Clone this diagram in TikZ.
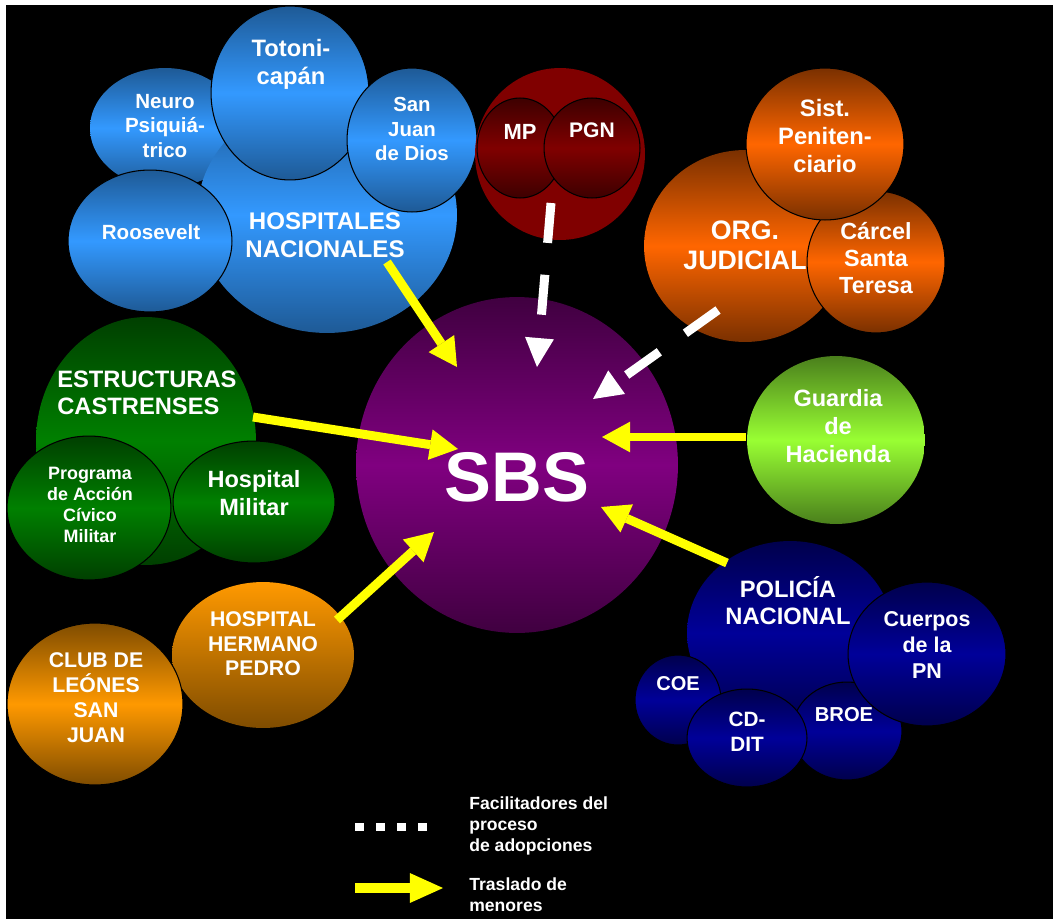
\documentclass[tikz,border=0pt]{standalone}
\usepackage{fontspec}
\setmainfont{Liberation Sans}
\usetikzlibrary{shapes.geometric,arrows.meta}

\definecolor{bluelt}{HTML}{3399FF}
\definecolor{bluedk}{HTML}{1E5A96}
\definecolor{redmd}{HTML}{800000}
\definecolor{reddk}{HTML}{3D0000}
\definecolor{orglt}{HTML}{FF6600}
\definecolor{orgdk}{HTML}{7A3000}
\definecolor{purlt}{HTML}{800080}
\definecolor{purdk}{HTML}{400040}
\definecolor{limelt}{HTML}{99FF33}
\definecolor{limedk}{HTML}{4A7F1C}
\definecolor{grnlt}{HTML}{008000}
\definecolor{grndk}{HTML}{003F00}
\definecolor{amblt}{HTML}{FF9900}
\definecolor{ambdk}{HTML}{7F4C00}
\definecolor{navylt}{HTML}{000099}
\definecolor{navydk}{HTML}{00004C}
\definecolor{yel}{HTML}{FFFF00}

\newcommand{\fsz}[2]{\fontsize{#1}{#2}\selectfont\bfseries}

\tikzset{
  bub/.style 2 args={ellipse, minimum width=#1*0.04cm, minimum height=#2*0.04cm, inner sep=0pt},
  sub/.style={draw=black, line width=0.6pt},
  shade3/.style 2 args={top color=#2, bottom color=#2, middle color=#1},
  txt/.style={text=white, align=center, inner sep=0pt},
  yarr/.style={draw=yel, line width=5.1pt, -{Triangle[length=16pt,width=17.5pt,line width=0pt]}},
  warr/.style={draw=white, line width=5.1pt, dash pattern=on 22.8pt off 18.2pt,
    -{Triangle[length=16.5pt,width=16.5pt,line width=0pt]}}
}

\begin{document}
\begin{tikzpicture}[x=0.02cm, y=-0.02cm]
\useasboundingbox (0,0) rectangle (1053,919);
\fill[white] (0,0) rectangle (1053,919);
\fill[black] (6,5) rectangle (1053,919);

% hospitales
\node[bub={75}{60}, shade3={bluelt}{bluedk}] (neuro) at (165,128) {};
\node[bub={130}{118}, shade3={bluelt}{bluedk}] (hosp) at (327,215) {};
\node[bub={79}{87}, sub, shade3={bluelt}{bluedk}] (toto) at (290,93) {};
\node[bub={65}{72}, sub, shade3={bluelt}{bluedk}] (sjd) at (412,140) {};
\node[bub={82}{71}, sub, shade3={bluelt}{bluedk}] (roose) at (150,241) {};
\node[txt, font=\fsz{13.5}{15.9}] (toto-t) at (291,64) {Totoni-\\capán};
\node[txt, font=\fsz{11.7}{13.7}] (neuro-t) at (165,126) {Neuro\\Psiquiá-\\trico};
\node[txt, font=\fsz{11.6}{13.7}] (sjd-t) at (412,129) {San\\Juan\\de Dios};
\node[txt, font=\fsz{11.7}{14}] (roose-t) at (151,232) {Roosevelt};
\node[txt, font=\fsz{13.7}{15.8}] (hosp-t) at (325,235) {HOSPITALES\\NACIONALES};

% MP / PGN
\node[bub={85}{86}, fill=redmd] (redbg) at (560,154) {};
\node[bub={43}{50}, sub, shade3={redmd}{reddk}] (mp) at (520,148) {};
\node[bub={48}{50}, sub, shade3={redmd}{reddk}] (pgn) at (592,148) {};
\node[txt, font=\fsz{12.5}{14}] (mp-t) at (520,132) {MP};
\node[txt, font=\fsz{12}{14}] (pgn-t) at (592,130) {PGN};

% organismo judicial
\node[bub={101}{96}, shade3={orglt}{orgdk}] (org) at (745,246) {};
\node[bub={69}{71}, sub, shade3={orglt}{orgdk}] (carcel) at (876,262) {};
\node[bub={79}{76}, sub, shade3={orglt}{orgdk}] (sist) at (825,144) {};
\node[txt, font=\fsz{13.5}{15.9}] (sist-t) at (825,136) {Sist.\\Peniten-\\ciario};
\node[txt, font=\fsz{15.2}{17}] (org-t) at (745,245) {ORG.\\JUDICIAL};
\node[txt, font=\fsz{13.3}{15.6}] (carcel-t) at (876,258) {Cárcel\\Santa\\Teresa};

% guardia
\node[bub={89}{84}, shade3={limelt}{limedk}] (guard) at (836,440) {};
\node[txt, font=\fsz{13.4}{16}] (guard-t) at (838,426) {Guardia\\de\\Hacienda};

% SBS
\node[bub={161}{168}, shade3={purlt}{purdk}] (sbs) at (517,465) {};
\node[txt, font=\fsz{40}{44}] (sbs-t) at (517,477) {SBS};

% castrenses
\node[bub={110}{124}, shade3={grnlt}{grndk}] (estr) at (146,441) {};
\node[bub={82}{72}, sub, shade3={grnlt}{grndk}] (prog) at (89,508) {};
\node[bub={81}{61}, sub, shade3={grnlt}{grndk}] (hmil) at (254,502) {};
\node[txt, align=left, anchor=west, font=\fsz{13.5}{15.4}] (estr-t) at (57,393) {ESTRUCTURAS\\CASTRENSES};
\node[txt, font=\fsz{10.2}{12}] (prog-t) at (90,505) {Programa\\de Acción\\Cívico\\Militar};
\node[txt, font=\fsz{13.4}{15.9}] (hmil-t) at (254,493) {Hospital\\Militar};

% hermano pedro
\node[bub={91}{73}, top color=amblt, bottom color=ambdk] (pedro) at (263,655) {};
\node[bub={88}{81}, sub, shade3={amblt}{ambdk}] (club) at (95,704) {};
\node[txt, font=\fsz{12.1}{14}] (pedro-t) at (263,644) {HOSPITAL\\HERMANO\\PEDRO};
\node[txt, font=\fsz{12.1}{14.2}] (club-t) at (96,698) {CLUB DE\\LEÓNES\\SAN\\JUAN};

% policia
\node[bub={103}{92}, shade3={navylt}{navydk}] (pol) at (790,633) {};
\node[bub={55}{49}, sub, shade3={navylt}{navydk}] (broe) at (847,731) {};
\node[bub={79}{72}, sub, shade3={navylt}{navydk}] (cpn) at (927,654) {};
\node[bub={43}{45}, sub, shade3={navylt}{navydk}] (coe) at (678,700) {};
\node[bub={60}{49}, sub, shade3={navylt}{navydk}] (cddit) at (747,738) {};
\node[txt, font=\fsz{13.5}{15.4}] (pol-t) at (788,601) {POLICÍA\\NACIONAL};
\node[txt, font=\fsz{12.2}{14.8}] (cpn-t) at (927,645) {Cuerpos\\de la\\PN};
\node[txt, font=\fsz{11.4}{14}] (coe-t) at (678,684) {COE};
\node[txt, font=\fsz{11.8}{14.2}] (cddit-t) at (747,732) {CD-\\DIT};
\node[txt, font=\fsz{11.5}{14}] (broe-t) at (844,715) {BROE};

% flechas
\coordinate (hosp-o) at (387,262);
\coordinate (estr-o) at (253,417);
\coordinate (pedro-o) at (337,620);
\coordinate (guard-o) at (746,437);
\coordinate (pol-o) at (727,563);
\coordinate (mp-o) at (551,203);
\coordinate (org-o) at (718,310);
\coordinate (sbs-1) at (457,367);
\coordinate (sbs-2) at (458,449);
\coordinate (sbs-3) at (434,532);
\coordinate (sbs-4) at (602,437);
\coordinate (sbs-5) at (601,507);
\coordinate (sbs-6) at (537,367);
\coordinate (sbs-7) at (593,399);

\draw[yarr] (hosp-o) -- (sbs-1);
\draw[yarr] (estr-o) -- (sbs-2);
\draw[yarr] (pedro-o) -- (sbs-3);
\draw[yarr] (guard-o) -- (sbs-4);
\draw[yarr] (pol-o) -- (sbs-5);
\draw[warr] (mp-o) -- (sbs-6);
\draw[warr] (org-o) -- (sbs-7);

% leyenda
\coordinate (lg1a) at (355,827);
\coordinate (lg1b) at (427,827);
\coordinate (lg2a) at (355,888);
\coordinate (lg2b) at (443,888);
\draw[white, line width=5.1pt, dash pattern=on 5.1pt off 6.9pt] (lg1a) -- (lg1b);
\draw[yel, line width=6.2pt, -{Triangle[length=18.8pt,width=17pt,line width=0pt]}] (lg2a) -- (lg2b);
\node[txt, align=left, anchor=north west, font=\fsz{10}{12.2}] (lg1-t) at (469,796) {Facilitadores del\\proceso\\de adopciones};
\node[txt, align=left, anchor=north west, font=\fsz{10}{12.2}] (lg2-t) at (469,877) {Traslado de\\menores};

\end{tikzpicture}
\end{document}
